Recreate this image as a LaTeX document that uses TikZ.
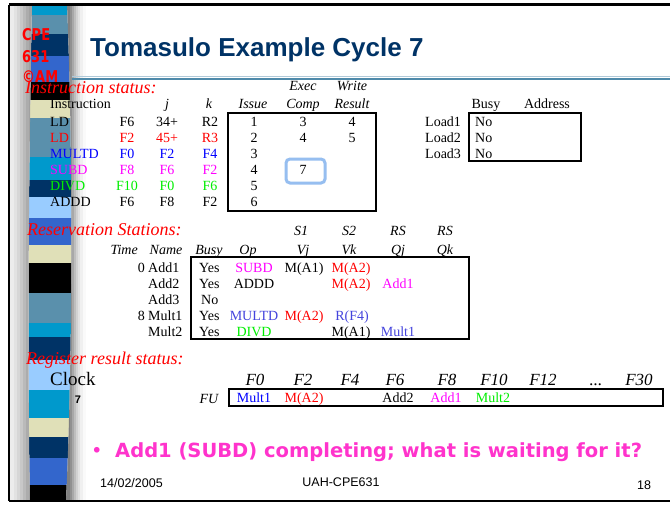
\documentclass[tikz,border=0pt]{standalone}
\usepackage{fontspec}
\setmainfont{Liberation Serif}
\newfontfamily\arialf{Liberation Sans}
\newfontfamily\comicf{DejaVu Sans}
\definecolor{navyT}{HTML}{003366}
\definecolor{cyanS}{HTML}{0099CC}
\definecolor{steelS}{HTML}{5A90AC}
\definecolor{royalS}{HTML}{3366CC}
\definecolor{beigeS}{HTML}{E0E0B8}
\definecolor{lblueS}{HTML}{99CCFF}
\definecolor{magT}{HTML}{FF00FF}
\definecolor{bluT}{HTML}{0000FF}
\definecolor{rsblu}{HTML}{4444DD}
\definecolor{grnT}{HTML}{00EE00}
\definecolor{pinkT}{HTML}{FF33CC}
\definecolor{hlblue}{HTML}{96BEF0}
\definecolor{lineS}{HTML}{4F8AAA}
\tikzset{
  tx/.style={font=\fontsize{14}{16}\selectfont, inner sep=0pt, anchor=base},
  txl/.style={tx, anchor=base west},
  txr/.style={tx, anchor=base east},
  itx/.style={font=\fontsize{14}{16}\selectfont\itshape, inner sep=0pt, anchor=base},
  regh/.style={font=\fontsize{17}{19}\selectfont\itshape, inner sep=0pt, anchor=base},
  sect/.style={font=\fontsize{18}{20}\selectfont\itshape, text=red, inner sep=0pt, anchor=base west},
  tbox/.style={draw=black, line width=1.5pt},
  logo/.style={font=\comicf\bfseries\fontsize{13}{15}\selectfont, text=red, inner sep=0pt, anchor=base west},
  foot/.style={font=\arialf\fontsize{12.5}{14}\selectfont, inner sep=0pt, anchor=base},
}
\begin{document}
\begin{tikzpicture}[x=1pt, y=-1pt]
\useasboundingbox (0,0) rectangle (670,504);
\fill[white] (0,0) rectangle (670,504);
% coloured stripe
\begin{scope}
\clip (32,4) .. controls (29,150) and (27,350) .. (30,501) -- (66,501) .. controls (73,350) and (73,150) .. (67,4) -- cycle;
\fill[cyanS] (0,4) rectangle (90,15);
\fill[steelS] (0,15) rectangle (90,34);
\fill[navyT] (0,34) rectangle (90,56);
\fill[royalS] (0,56) rectangle (90,82);
\fill[black] (0,82) rectangle (90,100);
\fill[beigeS] (0,100) rectangle (90,118);
\fill[steelS] (0,118) rectangle (90,157);
\fill[cyanS] (0,157) rectangle (90,180);
\fill[navyT] (0,180) rectangle (90,197);
\fill[lblueS] (0,197) rectangle (90,218);
\fill[royalS] (0,218) rectangle (90,245);
\fill[beigeS] (0,245) rectangle (90,263);
\fill[black] (0,263) rectangle (90,293);
\fill[steelS] (0,293) rectangle (90,323);
\fill[cyanS] (0,323) rectangle (90,337);
\fill[navyT] (0,337) rectangle (90,360);
\fill[lblueS] (0,360) rectangle (90,390);
\fill[cyanS] (0,390) rectangle (90,418);
\fill[beigeS] (0,418) rectangle (90,437);
\fill[navyT] (0,437) rectangle (90,458);
\fill[royalS] (0,458) rectangle (90,485);
\fill[black] (0,485) rectangle (90,504);
\end{scope}
% gray shading on both sides of the stripe (outside it)
\begin{scope}[even odd rule]
\clip (8,3) rectangle (92,502) (32,4) .. controls (29,150) and (27,350) .. (30,501) -- (66,501) .. controls (73,350) and (73,150) .. (67,4) -- cycle;
\fill[black!7.5] (10,5) rectangle (14,500);
\fill[black!11.4] (14,5) rectangle (17,500);
\fill[black!16] (17,5) rectangle (20,500);
\fill[black!21.5] (20,5) rectangle (23,500);
\fill[black!27] (23,5) rectangle (26,500);
\fill[black!32.5] (26,5) rectangle (29,500);
\fill[black!37] (29,5) rectangle (34,500);
\fill[black!50] (64,5) rectangle (70,500);
\fill[black!43] (70,5) rectangle (72,500);
\fill[black!34] (72,5) rectangle (74,500);
\fill[black!25.5] (74,5) rectangle (76,500);
\fill[black!17.6] (76,5) rectangle (78,500);
\fill[black!11.4] (78,5) rectangle (80,500);
\fill[black!6] (80,5) rectangle (83,500);
\fill[black!2] (83,5) rectangle (86,500);
\end{scope}
% frame
\draw[line width=2.5pt] (9,4.5) -- (672,4.5);
\draw[line width=2.5pt] (9,4.5) -- (9,501);
\draw[line width=2.5pt] (9,501) -- (672,501);
% title
\node[font=\arialf\bfseries\fontsize{26}{30}\selectfont, text=navyT, inner sep=0pt, anchor=base west] (title) at (90,56) {Tomasulo Example Cycle 7};
\draw[lineS!45, line width=1.2pt] (72,76.6) -- (670,76.6);
\draw[lineS, line width=2pt] (72,78.6) -- (670,78.6);
% logo
\node[logo] (lg1) at (22,40) {\scalebox{1}[1.25]{CPE}};
\node[logo] (lg2) at (22,62) {\scalebox{1}[1.25]{631}};
\node[logo] (lg3) at (22,82) {\scalebox{1}[1.25]{©AM}};
% instruction status
\node[sect] (ists) at (25,93) {Instruction status:};
\node[itx] (hexec) at (303,90) {Exec};
\node[itx] (hwrite) at (352,90) {Write};
\node[txl] (hinstr) at (50,108.5) {Instruction};
\node[itx] (hj) at (167,108.5) {j};
\node[itx] (hk) at (209,108.5) {k};
\node[itx] (hissue) at (253,108.5) {Issue};
\node[itx] (hcomp) at (303,108.5) {Comp};
\node[itx] (hres) at (352,108.5) {Result};
% row 1
\node[txl] (r1a) at (50,126) {LD};
\node[tx] (r1b) at (127,126) {F6};
\node[tx] (r1c) at (167,126) {34+};
\node[tx] (r1d) at (210,126) {R2};
\node[tx] (r1e) at (254,126) {1};
\node[tx] (r1f) at (303,126) {3};
\node[tx] (r1g) at (352,126) {4};
% row 2
\node[txl, text=red] (r2a) at (50,142) {LD};
\node[tx, text=red] (r2b) at (127,142) {F2};
\node[tx, text=red] (r2c) at (167,142) {45+};
\node[tx, text=red] (r2d) at (210,142) {R3};
\node[tx] (r2e) at (254,142) {2};
\node[tx] (r2f) at (303,142) {4};
\node[tx] (r2g) at (352,142) {5};
% row 3
\node[txl, text=bluT] (r3a) at (50,158) {MULTD};
\node[tx, text=bluT] (r3b) at (127,158) {F0};
\node[tx, text=bluT] (r3c) at (167,158) {F2};
\node[tx, text=bluT] (r3d) at (210,158) {F4};
\node[tx] (r3e) at (254,158) {3};
% row 4
\node[txl, text=magT] (r4a) at (50,174) {SUBD};
\node[tx, text=magT] (r4b) at (127,174) {F8};
\node[tx, text=magT] (r4c) at (167,174) {F6};
\node[tx, text=magT] (r4d) at (210,174) {F2};
\node[tx] (r4e) at (254,174) {4};
\node[tx] (r4f) at (303,174) {7};
% row 5
\node[txl, text=grnT] (r5a) at (50,190) {DIVD};
\node[tx, text=grnT] (r5b) at (127,190) {F10};
\node[tx, text=grnT] (r5c) at (167,190) {F0};
\node[tx, text=grnT] (r5d) at (210,190) {F6};
\node[tx] (r5e) at (254,190) {5};
% row 6
\node[txl] (r6a) at (50,206) {ADDD};
\node[tx] (r6b) at (127,206) {F6};
\node[tx] (r6c) at (167,206) {F8};
\node[tx] (r6d) at (210,206) {F2};
\node[tx] (r6e) at (254,206) {6};
\draw[tbox] (228,113) rectangle (376,211);
\draw[hlblue, line width=3pt, rounded corners=4pt] (286,159) rectangle (325,183);
% load buffers
\node[tx] (lbusy) at (486,108.5) {Busy};
\node[tx] (laddr) at (547,108.5) {Address};
\node[txl] (ld1) at (425,126.5) {Load1};
\node[txl] (ld2) at (425,142.5) {Load2};
\node[txl] (ld3) at (425,158) {Load3};
\node[txl] (ld1b) at (475,126.5) {No};
\node[txl] (ld2b) at (475,142.5) {No};
\node[txl] (ld3b) at (475,158) {No};
\draw[tbox] (469,113) rectangle (581,161);
% reservation stations
\node[sect] (rsts) at (27,235) {Reservation Stations:};
\node[itx] (hs1) at (301,235) {S1};
\node[itx] (hs2) at (349,235) {S2};
\node[itx] (hrs1) at (398,235) {RS};
\node[itx] (hrs2) at (445,235) {RS};
\node[itx, anchor=base east] (htime) at (138,254) {Time};
\node[itx] (hname) at (166,254) {Name};
\node[itx] (hbusy) at (209,254) {Busy};
\node[itx] (hop) at (248,254) {Op};
\node[itx] (hvj) at (303,254) {Vj};
\node[itx] (hvk) at (349,254) {Vk};
\node[itx] (hqj) at (398,254) {Qj};
\node[itx] (hqk) at (445,254) {Qk};
% rs rows
\node[txr] (s1t) at (145,272) {0};
\node[txl] (s1n) at (148,272) {Add1};
\node[txl] (s1b) at (199,272) {Yes};
\node[tx, text=magT] (s1o) at (254,272) {SUBD};
\node[tx] (s1vj) at (304,272) {M(A1)};
\node[tx, text=red] (s1vk) at (351,272) {M(A2)};
\node[txl] (s2n) at (148,288) {Add2};
\node[txl] (s2b) at (199,288) {Yes};
\node[tx] (s2o) at (254,288) {ADDD};
\node[tx, text=red] (s2vk) at (351,288) {M(A2)};
\node[tx, text=magT] (s2qj) at (398,288) {Add1};
\node[txl] (s3n) at (148,304) {Add3};
\node[txl] (s3b) at (201,304) {No};
\node[txr] (s4t) at (145,320) {8};
\node[txl] (s4n) at (148,320) {Mult1};
\node[txl] (s4b) at (199,320) {Yes};
\node[tx, text=rsblu] (s4o) at (254,320) {MULTD};
\node[tx, text=red] (s4vj) at (304,320) {M(A2)};
\node[tx, text=rsblu] (s4vk) at (352,320) {R(F4)};
\node[txl] (s5n) at (148,336) {Mult2};
\node[txl] (s5b) at (199,336) {Yes};
\node[tx, text=grnT] (s5o) at (254,336) {DIVD};
\node[tx] (s5vk) at (351,336) {M(A1)};
\node[tx, text=rsblu] (s5qj) at (398,336) {Mult1};
\draw[tbox] (191,257) rectangle (469,339);
% register result status
\node[sect] (rgst) at (26,364) {Register result status:};
\node[font=\fontsize{19}{21}\selectfont, inner sep=0pt, anchor=base west] (clk) at (50,385) {Clock};
\node[font=\arialf\bfseries\fontsize{11}{13}\selectfont, inner sep=0pt, anchor=base] (clkv) at (78,403) {7};
\node[regh] (f0) at (255,385) {F0};
\node[regh] (f2) at (303,385) {F2};
\node[regh] (f4) at (350,385) {F4};
\node[regh] (f6) at (395,385) {F6};
\node[regh] (f8) at (447,385) {F8};
\node[regh] (f10) at (494,385) {F10};
\node[regh] (f12) at (543,385) {F12};
\node[regh] (fdots) at (596,385) {...};
\node[regh] (f30) at (639,385) {F30};
\node[itx] (fu) at (209,403) {FU};
\draw[tbox] (229,389) rectangle (663,406);
\node[tx, text=bluT] (v0) at (254,402.5) {Mult1};
\node[tx, text=red] (v2) at (304,402.5) {M(A2)};
\node[tx] (v6) at (398,402.5) {Add2};
\node[tx, text=magT] (v8) at (446,402.5) {Add1};
\node[tx, text=grnT] (v10) at (493,402.5) {Mult2};
% bullet
\node[font=\comicf\fontsize{19.5}{22}\selectfont, text=pinkT, inner sep=0pt, anchor=base] (bul) at (97,457) {•};
\node[font=\comicf\bfseries\fontsize{19.5}{22}\selectfont, text=pinkT, inner sep=0pt, anchor=base west] (btxt) at (115,457) {Add1 (SUBD) completing; what is waiting for it?};
% footer
\node[foot, anchor=base west] (fdate) at (100,487) {14/02/2005};
\node[foot] (fmid) at (341,486) {UAH-CPE631};
\node[foot] (fpg) at (644,489) {18};
\end{tikzpicture}
\end{document}
